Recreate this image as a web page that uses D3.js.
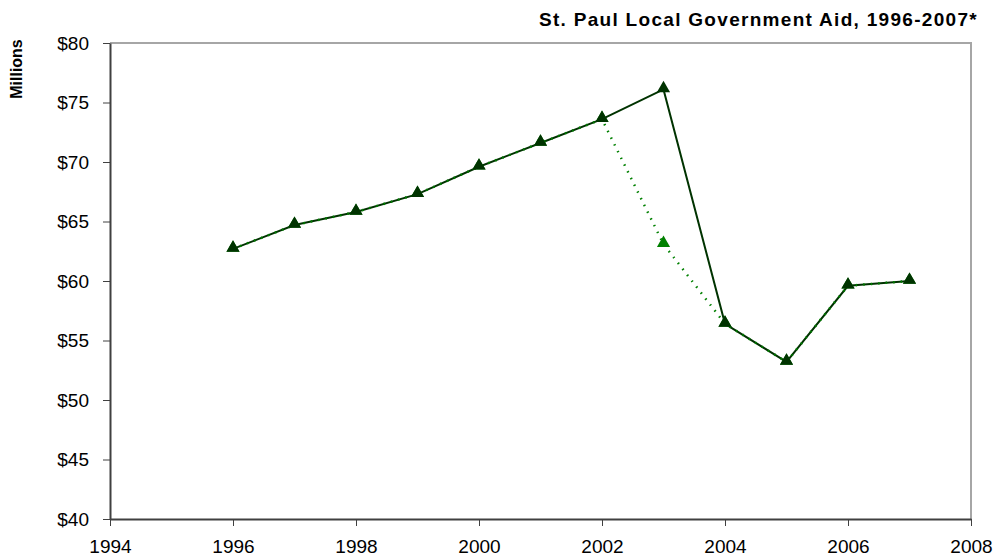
<!DOCTYPE html>
<html>
<head>
<meta charset="utf-8">
<script src="https://cdn.jsdelivr.net/npm/d3@7"></script>
<style>
    body { margin: 0; background: #fff; }
    text { font-family: "Liberation Sans", Arial, sans-serif; }
</style>
</head>
<body>
<svg id="chart" width="998" height="559"></svg>
<script>
// values in millions of dollars
let years = [1996, 1997, 1998, 1999, 2000, 2001, 2002, 2003, 2004, 2005, 2006, 2007];
let actualAid = [62.7, 64.7, 65.8, 67.3, 69.6, 71.6, 73.6, 76.1, 56.4, 53.2, 59.6, 60.0];
let adjustedAid = [62.7, 64.7, 65.8, 67.3, 69.6, 71.6, 73.6, 63.1, 56.4, 53.2, 59.6, 60.0];
let xTicks = [1994, 1996, 1998, 2000, 2002, 2004, 2006, 2008];
let yTicks = [40, 45, 50, 55, 60, 65, 70, 75, 80];

let svg = d3.select("#chart");
let plotLeft = 110, plotRight = 971, plotTop = 43, plotBottom = 519;

let xScale = d3.scaleLinear().domain([1994, 2008]).range([plotLeft, plotRight]);
let yScale = d3.scaleLinear().domain([40, 80]).range([plotBottom, plotTop]);

// plot border (top and right)
svg.append("path")
    .attr("d", "M" + plotLeft + "," + plotTop + "H" + plotRight + "V" + plotBottom)
    .attr("fill", "none")
    .attr("stroke", "#a6a6a6")
    .attr("stroke-width", 2);

let yAxis = d3.axisLeft(yScale).tickValues(yTicks).tickSize(7).tickSizeOuter(0)
    .tickFormat(function (d) { return "$" + d; });
let gy = svg.append("g")
    .attr("transform", "translate(" + plotLeft + ",0)")
    .call(yAxis);

let xAxis = d3.axisBottom(xScale).tickValues(xTicks).tickSize(7).tickSizeOuter(0)
    .tickFormat(d3.format("d"));
let gx = svg.append("g")
    .attr("transform", "translate(0," + plotBottom + ")")
    .call(xAxis);

[gx, gy].forEach(function (g) {
    g.select(".domain").attr("stroke", "#404040").attr("stroke-width", 2);
    g.selectAll(".tick line").attr("stroke", "#404040");
    g.selectAll("text").attr("font-size", 19).attr("fill", "#000")
        .style("font-family", "'Liberation Sans', Arial, sans-serif");
});
gy.selectAll("text").attr("x", -21);
gx.selectAll("text").attr("y", 21);

// labels
svg.append("text")
    .attr("x", 978)
    .attr("y", 26)
    .attr("text-anchor", "end")
    .attr("font-size", 19)
    .attr("font-weight", "bold")
    .attr("letter-spacing", 1.3)
    .text("St. Paul Local Government Aid, 1996-2007*");

svg.append("text")
    .attr("transform", "translate(22,69) rotate(-90)")
    .attr("text-anchor", "middle")
    .attr("font-size", 16)
    .attr("font-weight", "bold")
    .text("Millions");

let line = d3.line()
    .x(function (d, i) { return xScale(years[i]); })
    .y(function (d) { return yScale(d); });

svg.append("path")
    .datum(actualAid)
    .attr("d", line)
    .attr("fill", "none")
    .attr("stroke", "#003300")
    .attr("stroke-width", 2);

svg.append("path")
    .datum(adjustedAid)
    .attr("d", line)
    .attr("fill", "none")
    .attr("stroke", "#008000")
    .attr("stroke-width", 2.5)
    .attr("stroke-dasharray", "1.5,6");

let tri = d3.symbol().type(d3.symbolTriangle).size(75);

svg.append("g").selectAll("path")
    .data(adjustedAid)
    .enter().append("path")
    .attr("d", tri)
    .attr("transform", function (d, i) {
        return "translate(" + xScale(years[i]) + "," + (yScale(d) - 1) + ")";
    })
    .attr("fill", "#008000");

svg.append("g").selectAll("path")
    .data(actualAid)
    .enter().append("path")
    .attr("d", tri)
    .attr("transform", function (d, i) {
        return "translate(" + xScale(years[i]) + "," + (yScale(d) - 1) + ")";
    })
    .attr("fill", "#003300");
</script>
</body>
</html>
